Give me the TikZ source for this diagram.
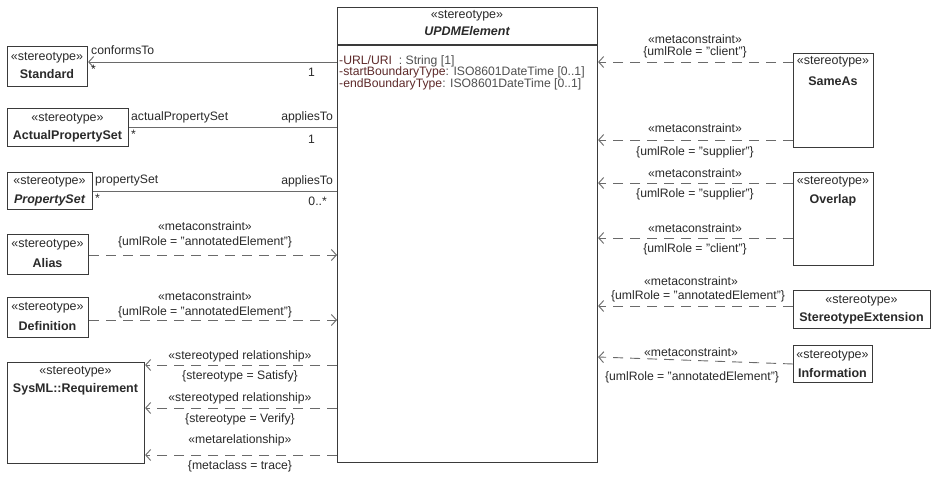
\documentclass[tikz,border=0pt]{standalone}
\usepackage{fontspec}
\setmainfont{Liberation Sans}
\usetikzlibrary{arrows.meta}
\definecolor{boxline}{HTML}{3A3A3A}
\definecolor{edgeline}{HTML}{6A6A6A}
\definecolor{ink}{HTML}{2A2A2A}
\definecolor{attrname}{HTML}{5E2A2A}
\definecolor{attrtype}{HTML}{505050}
\tikzset{
  cls/.style={draw=boxline, line width=1.1pt, fill=white, anchor=north west, inner sep=0pt},
  txt/.style={inner sep=0pt, text=ink, font=\fontsize{12.5}{14}\selectfont},
  lbl/.style={inner sep=0pt, text=ink},
  assoc/.style={draw=edgeline, line width=0.9pt},
  dep/.style={draw=edgeline, line width=0.9pt, dash pattern=on 10pt off 7pt},
  open/.style={-{Straight Barb[length=5pt,width=11pt,line width=0.9pt]}},
}
\begin{document}
\begin{tikzpicture}[x=1pt,y=-1pt,font=\fontsize{12.2}{14}\selectfont]
\useasboundingbox (0,0) rectangle (938,486);
\fill[white] (0,0) rectangle (938,486);

% central class
\node[cls, minimum width=260pt, minimum height=455pt] (upd) at (337,7) {};
\coordinate (sep) at (0,45);
\draw[boxline, line width=1.1pt] (upd.west |- sep) -- (upd.east |- sep);
\node[txt] (updS) at (467,16) {«stereotype»};
\node[txt] (updN) at (467,31) {\bfseries\itshape UPDMElement};
\node[lbl, anchor=west] (a1) at (339,61) {\color{attrname}-URL/URI\color{attrtype}\ \ : String [1]};
\node[lbl, anchor=west] (a2) at (339,72.5) {\color{attrname}-startBoundaryType\color{attrtype} : ISO8601DateTime [0..1]};
\node[lbl, anchor=west] (a3) at (339,84) {\color{attrname}-endBoundaryType\color{attrtype} : ISO8601DateTime [0..1]};

% left classes
\node[cls, minimum width=80pt, minimum height=40pt] (std) at (7,46) {};
\node[txt] (stdS) at (47,58) {«stereotype»};
\node[txt] (stdN) at (47,74) {\bfseries Standard};

\node[cls, minimum width=121pt, minimum height=38pt] (aps) at (7,108) {};
\node[txt] (apsS) at (67.5,119) {«stereotype»};
\node[txt] (apsN) at (67.5,136) {\bfseries ActualPropertySet};

\node[cls, minimum width=85pt, minimum height=37pt] (ps) at (7,172) {};
\node[txt] (psS) at (49.5,182) {«stereotype»};
\node[txt] (psN) at (49.5,200) {\bfseries\itshape PropertySet};

\node[cls, minimum width=81pt, minimum height=40pt] (alias) at (7,234) {};
\node[txt] (aliasS) at (47.5,245) {«stereotype»};
\node[txt] (aliasN) at (47.5,263) {\bfseries Alias};

\node[cls, minimum width=81pt, minimum height=40pt] (def) at (7,297) {};
\node[txt] (defS) at (47.5,308) {«stereotype»};
\node[txt] (defN) at (47.5,326) {\bfseries Definition};

\node[cls, minimum width=137pt, minimum height=101pt] (req) at (7,362) {};
\node[txt] (reqS) at (75.5,372) {«stereotype»};
\node[txt] (reqN) at (75.5,389) {\bfseries SysML::Requirement};

% right classes
\node[cls, minimum width=80pt, minimum height=94pt] (same) at (793,53) {};
\node[txt] (sameS) at (833,62) {«stereotype»};
\node[txt] (sameN) at (833,81) {\bfseries SameAs};

\node[cls, minimum width=80pt, minimum height=93pt] (ovl) at (793,172) {};
\node[txt] (ovlS) at (833,182) {«stereotype»};
\node[txt] (ovlN) at (833,200) {\bfseries Overlap};

\node[cls, minimum width=137pt, minimum height=38pt] (ext) at (793,290) {};
\node[txt] (extS) at (861.5,301) {«stereotype»};
\node[txt] (extN) at (861.5,318) {\bfseries StereotypeExtension};

\node[cls, minimum width=79pt, minimum height=37pt] (info) at (793,345) {};
\node[txt] (infoS) at (832.5,356) {«stereotype»};
\node[txt] (infoN) at (832.5,373) {\bfseries Information};

% connector levels
\coordinate (l1) at (0,62);
\coordinate (l2) at (0,127);
\coordinate (l3) at (0,191);
\coordinate (l4) at (0,255);
\coordinate (l5) at (0,320);
\coordinate (l6) at (0,365);
\coordinate (l7) at (0,408);
\coordinate (l8) at (0,455);
\coordinate (r1) at (0,62);
\coordinate (r2) at (0,140);
\coordinate (r3) at (0,183);
\coordinate (r4) at (0,238);
\coordinate (r5) at (0,306);
\coordinate (r6a) at (0,364);
\coordinate (r6b) at (0,357);

% associations
\draw[assoc, open] (upd.west |- l1) -- (std.east |- l1);
\node[lbl, anchor=west] (e1a) at (91,50) {conformsTo};
\node[lbl, anchor=west] (e1b) at (91,69) {*};
\node[lbl, anchor=east] (e1c) at (315,72) {1};

\draw[assoc] (aps.east |- l2) -- (upd.west |- l2);
\node[lbl, anchor=west] (e2a) at (131,117) {actualPropertySet};
\node[lbl, anchor=east] (e2b) at (333,117) {appliesTo};
\node[lbl, anchor=west] (e2c) at (131,134) {*};
\node[lbl, anchor=east] (e2d) at (315,139) {1};

\draw[assoc] (ps.east |- l3) -- (upd.west |- l3);
\node[lbl, anchor=west] (e3a) at (95,181) {propertySet};
\node[lbl, anchor=east] (e3b) at (333,181) {appliesTo};
\node[lbl, anchor=west] (e3c) at (95,198) {*};
\node[lbl, anchor=east] (e3d) at (327,201) {0..*};

% dependencies on the left
\draw[dep, open] (alias.east |- l4) -- (upd.west |- l4);
\node[lbl] (e4a) at (205,226) {«metaconstraint»};
\node[lbl] (e4b) at (205,242) {\{umlRole = "annotatedElement"\}};

\draw[dep, open] (def.east |- l5) -- (upd.west |- l5);
\node[lbl] (e5a) at (205,296) {«metaconstraint»};
\node[lbl] (e5b) at (205,312) {\{umlRole = "annotatedElement"\}};

\draw[dep, open] (upd.west |- l6) -- (req.east |- l6);
\node[lbl] (e6a) at (240,356) {«stereotyped relationship»};
\node[lbl] (e6b) at (240,376) {\{stereotype = Satisfy\}};

\draw[dep, open] (upd.west |- l7) -- (req.east |- l7);
\node[lbl] (e7a) at (240,398) {«stereotyped relationship»};
\node[lbl] (e7b) at (240,419) {\{stereotype = Verify\}};

\draw[dep, open] (upd.west |- l8) -- (req.east |- l8);
\node[lbl] (e8a) at (240,440) {«metarelationship»};
\node[lbl] (e8b) at (240,466) {\{metaclass = trace\}};

% dependencies on the right
\draw[dep, open] (same.west |- r1) -- (upd.east |- r1);
\node[lbl] (f1a) at (695,39) {«metaconstraint»};
\node[lbl] (f1b) at (695,52) {\{umlRole = "client"\}};

\draw[dep, open] (same.west |- r2) -- (upd.east |- r2);
\node[lbl] (f2a) at (695,128) {«metaconstraint»};
\node[lbl] (f2b) at (695,152) {\{umlRole = "supplier"\}};

\draw[dep, open] (ovl.west |- r3) -- (upd.east |- r3);
\node[lbl] (f3a) at (695,173) {«metaconstraint»};
\node[lbl] (f3b) at (695,194) {\{umlRole = "supplier"\}};

\draw[dep, open] (ovl.west |- r4) -- (upd.east |- r4);
\node[lbl] (f4a) at (695,228) {«metaconstraint»};
\node[lbl] (f4b) at (695,249) {\{umlRole = "client"\}};

\draw[dep, open] (ext.west |- r5) -- (upd.east |- r5);
\node[lbl] (f5a) at (691,281) {«metaconstraint»};
\node[lbl] (f5b) at (698,296) {\{umlRole = "annotatedElement"\}};

\draw[dep, open] (info.west |- r6a) -- (upd.east |- r6b);
\node[lbl] (f6a) at (691,352) {«metaconstraint»};
\node[lbl] (f6b) at (692,377) {\{umlRole = "annotatedElement"\}};
\end{tikzpicture}
\end{document}
